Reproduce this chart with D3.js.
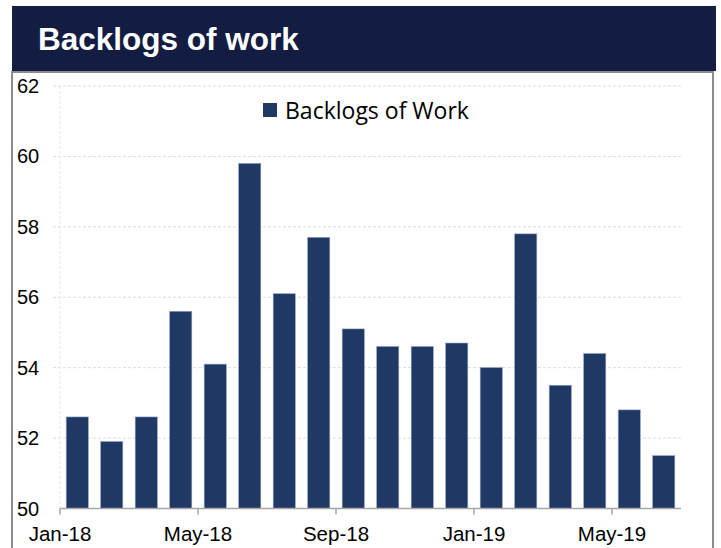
<!DOCTYPE html>
<html>
<head>
<meta charset="utf-8">
<script src="https://cdn.jsdelivr.net/npm/d3@7"></script>
<style>
  body { margin: 0; background: #fff; }
  svg { display: block; }
</style>
</head>
<body>
<svg width="721" height="548"></svg>
<script>
// data
var months = ['Jan-18', 'Feb-18', 'Mar-18', 'Apr-18', 'May-18', 'Jun-18', 'Jul-18', 'Aug-18', 'Sep-18',
  'Oct-18', 'Nov-18', 'Dec-18', 'Jan-19', 'Feb-19', 'Mar-19', 'Apr-19', 'May-19', 'Jun-19'];
var backlogs = [52.6, 51.9, 52.6, 55.6, 54.1, 59.8, 56.1, 57.7, 55.1,
  54.6, 54.6, 54.7, 54.0, 57.8, 53.5, 54.4, 52.8, 51.5];
var yTicks = [50, 52, 54, 56, 58, 60, 62];
var xTickLabels = ['Jan-18', 'May-18', 'Sep-18', 'Jan-19', 'May-19'];

var svg = d3.select('svg');

var plotLeft = 60, plotRight = 681, plotTop = 86, plotBottom = 508.5;
var font = 'Liberation Sans, Arial, sans-serif';

// title banner
svg.append('rect')
  .attr('x', 12).attr('y', 6)
  .attr('width', 704).attr('height', 65)
  .attr('fill', '#131d41');
svg.append('text')
  .attr('x', 38).attr('y', 50)
  .attr('fill', '#fff')
  .attr('font-family', font)
  .attr('font-weight', 'bold')
  .attr('font-size', 31.5)
  .text('Backlogs of work');

// frame
svg.append('path')
  .attr('d', 'M12,560 V72 H713 V560')
  .attr('fill', 'none')
  .attr('stroke', '#8c8c8c')
  .attr('stroke-width', 2);

var x = d3.scaleBand()
  .domain(months)
  .range([plotLeft, plotRight])
  .paddingInner(0.36)
  .paddingOuter(0.18);

var y = d3.scaleLinear()
  .domain([50, 62])
  .range([plotBottom, plotTop]);

// gridlines
svg.append('g')
  .selectAll('line')
  .data(yTicks.filter(d => d > 50))
  .enter().append('line')
  .attr('x1', 53).attr('x2', plotRight)
  .attr('y1', d => y(d)).attr('y2', d => y(d))
  .attr('stroke', '#dcdcdc')
  .attr('stroke-dasharray', '3,2');

svg.append('line')
  .attr('x1', plotLeft).attr('x2', plotLeft)
  .attr('y1', plotTop).attr('y2', plotBottom)
  .attr('stroke', '#e6e6e6')
  .attr('stroke-dasharray', '3,2');

// y labels
svg.append('g')
  .selectAll('text')
  .data(yTicks)
  .enter().append('text')
  .attr('x', 17)
  .attr('y', d => y(d) + 7)
  .attr('font-family', font)
  .attr('font-size', 20)
  .attr('fill', '#000')
  .text(d => d);

// bars
svg.append('g')
  .selectAll('rect')
  .data(backlogs)
  .enter().append('rect')
  .attr('x', (d, i) => x(months[i]))
  .attr('y', d => y(d))
  .attr('width', x.bandwidth())
  .attr('height', d => y(50) - y(d))
  .attr('fill', '#203864')
  .attr('stroke', '#8a9bbb')
  .attr('stroke-width', 0.6);

// x axis
var step = x.step();
var tickX = m => months.indexOf(m) * step + plotLeft;
var xAxis = svg.append('g');
xAxis.append('line')
  .attr('x1', plotLeft).attr('x2', plotRight)
  .attr('y1', plotBottom).attr('y2', plotBottom)
  .attr('stroke', '#a6a6a6')
  .attr('stroke-width', 1.5);

xAxis.selectAll('.tick')
  .data(xTickLabels)
  .enter().append('line')
  .attr('x1', tickX).attr('x2', tickX)
  .attr('y1', plotBottom).attr('y2', plotBottom + 6)
  .attr('stroke', '#a6a6a6')
  .attr('stroke-width', 1.5);

xAxis.selectAll('text')
  .data(xTickLabels)
  .enter().append('text')
  .attr('x', tickX)
  .attr('y', 540.5)
  .attr('text-anchor', 'middle')
  .attr('font-family', font)
  .attr('font-size', 20.5)
  .attr('fill', '#000')
  .text(m => m);

// legend
svg.append('rect')
  .attr('x', 263).attr('y', 103)
  .attr('width', 14).attr('height', 14)
  .attr('fill', '#203864');
svg.append('text')
  .attr('x', 285).attr('y', 119)
  .attr('font-family', 'Open Sans, sans-serif')
  .attr('font-size', 23)
  .attr('fill', '#000')
  .text('Backlogs of Work');
</script>
</body>
</html>
